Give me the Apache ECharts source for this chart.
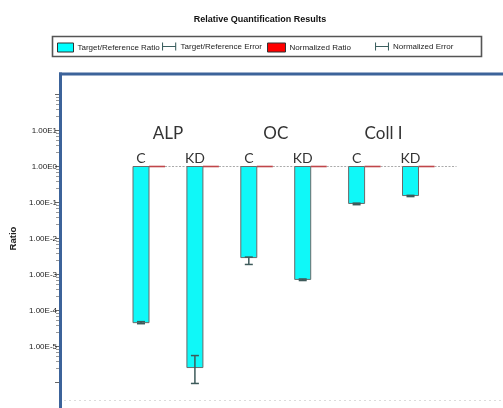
<!DOCTYPE html>
<html><head><meta charset="utf-8">
<script src="https://cdn.jsdelivr.net/npm/echarts@6/dist/echarts.min.js"></script>
<style>html,body{margin:0;padding:0;background:#fff}#c{width:503px;height:408px}</style>
</head><body><div id="c"></div>
<script>
// ---- data ----
const groups = ['ALP', 'OC', 'Coll I'];
const conditions = ['C', 'KD', 'C', 'KD', 'C', 'KD'];
const ratio = [4.6e-5, 2.6e-6, 2.95e-3, 7.3e-4, 0.094, 0.156];
const errLow = [4.3e-5, 9.4e-7, 1.9e-3, 6.8e-4, 0.087, 0.146];
const errHigh = [4.9e-5, 5.6e-6, 3.05e-3, 7.5e-4, 0.096, 0.158];
const normalized = [1, 1, 1, 1, 1, 1];
const tickExponents = [1, 0, -1, -2, -3, -4, -5];
const tickLabels = ['1.00E1', '1.00E0', '1.00E-1', '1.00E-2', '1.00E-3', '1.00E-4', '1.00E-5'];
const legendNames = ['Target/Reference Ratio', 'Target/Reference Error', 'Normalized Ratio', 'Normalized Error'];

const SANS = '"Liberation Sans",Arial,sans-serif';
const chart = echarts.init(document.getElementById('c'), null, {renderer: 'canvas'});

const idx = conditions.map((_, i) => i);
const BW = 16;

const option = {
  animation: false,
  backgroundColor: '#fff',
  grid: {left: 60, right: 0, top: 94.5, bottom: 25.5, containLabel: false},
  xAxis: {type: 'value', min: -1.503, max: 6.716, show: false},
  yAxis: {
    type: 'log', logBase: 10, min: 1e-6, max: 1e2, splitNumber: 8,
    name: 'Ratio', nameLocation: 'middle', nameGap: 18,
    nameTextStyle: {fontSize: 9.5, fontWeight: 'bold', color: '#222', fontFamily: SANS},
    axisLine: {show: false, onZero: false},
    axisTick: {show: true, length: 5, lineStyle: {color: '#666', width: 1}},
    minorTick: {show: true, splitNumber: 6, length: 4, lineStyle: {color: '#999'}},
    splitLine: {show: false},
    axisLabel: {
      fontSize: 8, fontFamily: SANS, color: '#222', margin: 3,
      formatter: v => {
        const e = Math.round(Math.log10(v));
        const k = tickExponents.indexOf(e);
        return k >= 0 ? tickLabels[k] : '';
      }
    }
  },
  legend: legendNames.map((n, k) => ({
    data: [{
      name: n,
      icon: k === 1 || k === 3 ? 'path://M0,0h1.2v9h-1.2z M0,4h16v1.2h-16z M14.8,0h1.2v9h-1.2z' : 'rect',
      itemStyle: k === 0 ? {color: '#00ffff', borderColor: '#333', borderWidth: 1}
        : k === 2 ? {color: '#ff0000', borderColor: '#333', borderWidth: 1}
        : {color: '#3d6060', borderWidth: 0}
    }],
    left: [57, 162, 267, 375][k], top: 42.5, padding: 0,
    itemWidth: [16, 15, 18, 14][k], itemHeight: [9, 8, 9, 8][k],
    selectedMode: false,
    textStyle: {fontSize: 8, fontFamily: SANS, color: '#222', padding: [0, 0, 0, -1]}
  })),
  graphic: [
    {type: 'text', style: {x: 260, y: 20, text: 'Relative Quantification Results', textAlign: 'center', textVerticalAlign: 'middle', font: 'bold 9px ' + SANS, fill: '#111'}, z: 100},
    {type: 'rect', shape: {x: 52.5, y: 36.5, width: 429, height: 20}, style: {fill: 'none', stroke: '#555', lineWidth: 1.6}, z: 1},
    {type: 'line', shape: {x1: 60.5, y1: 72.5, x2: 60.5, y2: 408}, style: {stroke: '#3c639a', lineWidth: 3}, z: 100},
    {type: 'line', shape: {x1: 59, y1: 74, x2: 503, y2: 74}, style: {stroke: '#3c639a', lineWidth: 3}, z: 100},
    {type: 'line', shape: {x1: 64, y1: 400.5, x2: 503, y2: 400.5}, style: {stroke: '#dcdcdc', lineWidth: 1, lineDash: [2, 3]}, z: 1}
  ],
  series: [
    {
      name: 'Normalized Ratio', type: 'custom', z: 2,
      data: idx.map(i => [i, normalized[i]]),
      renderItem: (params, api) => {
        const i = api.value(0);
        const p = api.coord([i, api.value(1)]);
        return {type: 'group', children: [
          {type: 'line', shape: {x1: p[0] + BW / 2 + BW, y1: p[1], x2: p[0] + 46, y2: p[1]}, style: {stroke: '#aaaaaa', lineWidth: 1.2, lineDash: [2, 1.5]}},
          {type: 'line', shape: {x1: p[0] + BW / 2, y1: p[1], x2: p[0] + BW / 2 + BW, y2: p[1]}, style: {stroke: '#c0464a', lineWidth: 1.6}}
        ]};
      }
    },
    {
      name: 'Target/Reference Ratio', type: 'custom', z: 3,
      data: idx.map(i => [i, ratio[i]]),
      renderItem: (params, api) => {
        const i = api.value(0);
        const p1 = api.coord([i, 1]);
        const p2 = api.coord([i, api.value(1)]);
        return {type: 'rect', shape: {x: p1[0] - BW / 2, y: p1[1], width: BW, height: p2[1] - p1[1]},
          style: {fill: '#0ff8f8', stroke: '#6a6a6a', lineWidth: 1}};
      }
    },
    {
      name: 'Target/Reference Error', type: 'custom', z: 4,
      data: idx.map(i => [i, errLow[i], errHigh[i]]),
      renderItem: (params, api) => {
        const i = api.value(0);
        const lo = api.coord([i, api.value(1)]);
        const hi = api.coord([i, api.value(2)]);
        const st = {stroke: '#3d5a5a', lineWidth: 1.5};
        return {type: 'group', children: [
          {type: 'line', shape: {x1: lo[0], y1: lo[1], x2: hi[0], y2: hi[1]}, style: st},
          {type: 'line', shape: {x1: lo[0] - 4, y1: lo[1], x2: lo[0] + 4, y2: lo[1]}, style: st},
          {type: 'line', shape: {x1: hi[0] - 4, y1: hi[1], x2: hi[0] + 4, y2: hi[1]}, style: st}
        ]};
      }
    },
    {
      name: 'Normalized Error', type: 'custom', z: 4,
      data: idx.map(i => [i, normalized[i]]),
      renderItem: () => ({type: 'group', children: []})
    },
    {
      name: 'labels', type: 'custom', z: 5, silent: true,
      data: idx.map(i => [i, 1]),
      renderItem: (params, api) => {
        const i = api.value(0);
        const p = api.coord([i, 1]);
        const children = [
          {type: 'text', style: {x: p[0], y: p[1] - 1, text: conditions[i], textAlign: 'center', textVerticalAlign: 'bottom', font: '14px Lato', fill: '#333'}}
        ];
        if (i % 2 === 0) {
          const q = api.coord([i + 0.5, 1]);
          children.push({type: 'text', style: {x: q[0], y: p[1] - 33, text: groups[i / 2], textAlign: 'center', textVerticalAlign: 'middle', font: '17px Lato', fill: '#333'}});
        }
        return {type: 'group', children};
      }
    }
  ]
};
chart.setOption(option);
</script>
</body></html>
